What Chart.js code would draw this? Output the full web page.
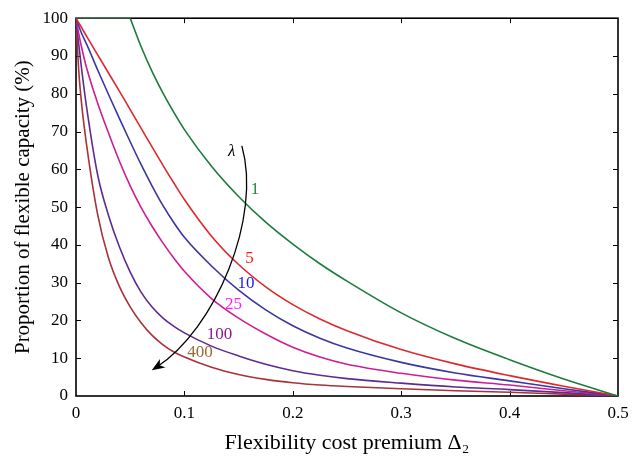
<!DOCTYPE html>
<html>
<head>
<meta charset="utf-8">
<script src="https://cdn.jsdelivr.net/npm/chart.js@4.4.1/dist/chart.umd.min.js"></script>
<style>
  html, body { margin: 0; padding: 0; background: #fff; }
</style>
</head>
<body>
<canvas id="chart" width="640" height="458"></canvas>
<script>
// flexibility cost premium (x) and share of flexible capacity (%) per lambda
const delta  = [0, 0.0025, 0.005, 0.01, 0.02, 0.03, 0.04, 0.05, 0.06, 0.07, 0.08, 0.09, 0.1, 0.125, 0.15, 0.175, 0.2, 0.225, 0.25, 0.3, 0.35, 0.4, 0.45, 0.5];
const lam1   = [100, 100, 100, 100, 100, 100, 100, 100, 92.5, 86.0, 80.3, 75.2, 70.5, 60.8, 52.8, 46.0, 40.2, 35.0, 30.4, 22.0, 15.2, 9.6, 4.5, 0];
const lam5   = [100, 98.8, 97.6, 95.1, 90.3, 85.5, 80.7, 75.8, 70.9, 66.0, 61.2, 56.5, 52.0, 42.3, 34.8, 28.9, 24.2, 20.4, 17.3, 12.3, 8.5, 5.4, 2.6, 0];
const lam10  = [100, 98.0, 96.1, 93.0, 86.3, 79.8, 73.5, 67.3, 61.3, 55.7, 50.5, 46.0, 42.0, 34.4, 28.0, 22.8, 18.6, 15.3, 12.7, 8.9, 6.1, 4.0, 1.9, 0];
const lam25  = [100, 96.0, 92.5, 86.6, 77.5, 69.6, 62.2, 55.6, 49.9, 45.0, 40.6, 36.6, 33.0, 25.8, 20.6, 16.4, 12.9, 10.3, 8.4, 6.0, 4.2, 2.9, 1.4, 0];
const lam100 = [100, 93.2, 87.0, 76.0, 58.5, 47.8, 39.5, 32.8, 27.5, 23.6, 20.7, 18.5, 16.7, 13.2, 10.6, 8.4, 6.7, 5.5, 4.6, 3.4, 2.4, 1.7, 0.9, 0];
const lam400 = [100, 86.3, 77.8, 66.0, 48.0, 36.5, 29.0, 23.6, 19.4, 16.1, 13.6, 11.7, 10.3, 7.6, 5.7, 4.4, 3.5, 2.9, 2.5, 1.9, 1.4, 1.0, 0.5, 0];
const lam1Kink = 0.05; // lambda = 1 leaves the 100% cap here (sharp corner)

const xTicks = [0, 0.1, 0.2, 0.3, 0.4, 0.5];
const xTickLabels = ['0', '0.1', '0.2', '0.3', '0.4', '0.5'];
const yTicks = [0, 10, 20, 30, 40, 50, 60, 70, 80, 90, 100];

// curve labels and the lambda arrow, in data units
const curveLabels = [
    { text: 'λ',   x: 0.1437, y: 64.8, color: '#000000', italic: true },
    { text: '1',   x: 0.1652, y: 54.6, color: '#1f8a3a' },
    { text: '5',   x: 0.1600, y: 36.5, color: '#ff1a1a' },
    { text: '10',  x: 0.1569, y: 29.7, color: '#1a1aff' },
    { text: '25',  x: 0.1452, y: 24.1, color: '#ff1aff' },
    { text: '100', x: 0.1323, y: 16.2, color: '#8a1a8a' },
    { text: '400', x: 0.1144, y: 11.5, color: '#9c6a35' }
];
const arrowPath = [[0.153, 66.2], [0.1716, 47.4], [0.1292, 17.8], [0.0699, 6.8]];

const serif = '"Liberation Serif", "DejaVu Serif", serif';

function toPoints(values, kink) {
    const pts = [];
    values.forEach((v, i) => {
        pts.push({ x: delta[i], y: v });
        if (kink !== undefined && delta[i] === kink) {
            // break the spline so the corner stays sharp
            pts.push({ x: delta[i], y: null });
            pts.push({ x: delta[i], y: v });
        }
    });
    return pts;
}

function series(label, values, color, kink) {
    return {
        label: label,
        data: toPoints(values, kink),
        borderColor: color,
        borderWidth: 1.6,
        pointRadius: 0,
        fill: false,
        cubicInterpolationMode: 'monotone'
    };
}

const framePlugin = {
    id: 'frame',
    // box and inward ticks go under the curves
    beforeDatasetsDraw(chart) {
        const { ctx, chartArea: a, scales: { x, y } } = chart;
        ctx.save();
        ctx.strokeStyle = '#000';
        ctx.lineWidth = 1.6;
        ctx.strokeRect(a.left, a.top, a.right - a.left, a.bottom - a.top);

        ctx.lineWidth = 1;
        ctx.beginPath();
        xTicks.slice(1, -1).forEach(v => {
            const px = Math.round(x.getPixelForValue(v)) + 0.5;
            ctx.moveTo(px, a.bottom); ctx.lineTo(px, a.bottom - 5);
            ctx.moveTo(px, a.top);    ctx.lineTo(px, a.top + 5);
        });
        yTicks.slice(1, -1).forEach(v => {
            const py = Math.round(y.getPixelForValue(v)) + 0.5;
            ctx.moveTo(a.left, py);  ctx.lineTo(a.left + 5, py);
            ctx.moveTo(a.right, py); ctx.lineTo(a.right - 5, py);
        });
        ctx.stroke();
        ctx.restore();
    },
    afterDraw(chart) {
        const { ctx, scales: { x, y } } = chart;

        // lambda arrow
        const p = arrowPath.map(([vx, vy]) => [x.getPixelForValue(vx), y.getPixelForValue(vy)]);
        ctx.save();
        ctx.strokeStyle = '#000';
        ctx.lineWidth = 1.3;
        ctx.beginPath();
        ctx.moveTo(p[0][0], p[0][1]);
        ctx.bezierCurveTo(p[1][0], p[1][1], p[2][0], p[2][1], p[3][0] + 4, p[3][1] - 2.5);
        ctx.stroke();
        const ang = Math.atan2(p[3][1] - p[2][1], p[3][0] - p[2][0]);
        ctx.translate(p[3][0], p[3][1]);
        ctx.rotate(ang);
        ctx.fillStyle = '#000';
        ctx.beginPath();
        ctx.moveTo(0, 0);
        ctx.lineTo(-13, -5);
        ctx.lineTo(-9.5, 0);
        ctx.lineTo(-13, 5);
        ctx.closePath();
        ctx.fill();
        ctx.restore();

        ctx.save();
        ctx.textAlign = 'center';
        ctx.textBaseline = 'middle';
        curveLabels.forEach(l => {
            ctx.font = (l.italic ? 'italic ' : '') + '17px ' + serif;
            ctx.fillStyle = l.color;
            ctx.fillText(l.text, x.getPixelForValue(l.x), y.getPixelForValue(l.y));
        });
        ctx.restore();
    }
};

new Chart(document.getElementById('chart').getContext('2d'), {
    type: 'line',
    data: {
        datasets: [
            series('1', lam1, '#1f7a3e', lam1Kink),
            series('5', lam5, '#dc2a2e'),
            series('10', lam10, '#3b37a0'),
            series('25', lam25, '#cc1f96'),
            series('100', lam100, '#5e2b8e'),
            series('400', lam400, '#a8323a')
        ]
    },
    options: {
        responsive: false,
        animation: false,
        layout: { padding: { top: 14, right: 22, left: 0, bottom: 0 } },
        plugins: { legend: { display: false }, tooltip: { enabled: false } },
        scales: {
            x: {
                type: 'linear', min: 0, max: 0.5,
                afterBuildTicks: s => { s.ticks = xTicks.map(v => ({ value: v })); },
                afterFit: s => { s.height = 62; },
                grid: { display: false, drawTicks: false },
                border: { display: false },
                ticks: {
                    padding: 7, color: '#000', maxRotation: 0, autoSkip: false,
                    font: { family: serif, size: 17 },
                    callback: (v, i) => xTickLabels[i]
                },
                title: {
                    display: true, text: 'Flexibility cost premium Δ₂', color: '#000',
                    font: { family: serif, size: 22, lineHeight: 1 },
                    padding: { top: 0, bottom: 4 }
                }
            },
            y: {
                type: 'linear', min: 0, max: 100,
                afterBuildTicks: s => { s.ticks = yTicks.map(v => ({ value: v })); },
                afterFit: s => { s.width = 76; },
                grid: { display: false, drawTicks: false },
                border: { display: false },
                ticks: {
                    padding: 8, color: '#000', autoSkip: false,
                    font: { family: serif, size: 17 },
                    callback: v => String(v)
                },
                title: {
                    display: true, text: 'Proportion of flexible capacity (%)', color: '#000',
                    font: { family: serif, size: 21, lineHeight: 1 },
                    padding: { top: 13, bottom: 0 }
                }
            }
        }
    },
    plugins: [framePlugin]
});
</script>
</body>
</html>
